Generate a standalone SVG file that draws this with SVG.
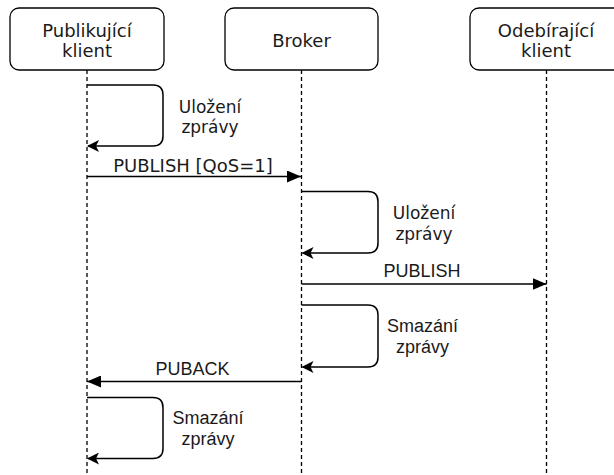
<svg xmlns="http://www.w3.org/2000/svg" width="614" height="475" viewBox="0 0 614 475">
<style>
.box{fill:#fff;stroke:#000;stroke-width:1.3}
.life{stroke:#000;stroke-width:1.3;stroke-dasharray:4,3;fill:none}
.loop{fill:none;stroke:#000;stroke-width:1.5}
.msg{fill:none;stroke:#000;stroke-width:1.5}
.tv{font-family:"DejaVu Sans",Verdana,sans-serif;font-size:18px;fill:#1a1a1a;text-anchor:middle}
.tu{font-family:"DejaVu Sans",Verdana,sans-serif;font-size:17px;fill:#1a1a1a;text-anchor:middle}
.ta{font-family:"Liberation Sans",Arial,sans-serif;font-size:18px;fill:#1a1a1a;text-anchor:middle}
</style>
<defs>
<marker id="open" viewBox="0 0 12 12" refX="11" refY="6" markerWidth="12" markerHeight="12" markerUnits="userSpaceOnUse" orient="auto">
<path d="M0,0 L12,6 L0,12 L3,6 Z" fill="#000"/>
</marker>
<marker id="block" viewBox="0 0 14 12" refX="14" refY="6" markerWidth="14" markerHeight="12" markerUnits="userSpaceOnUse" orient="auto">
<path d="M0,0 L14,6 L0,12 Z" fill="#000"/>
</marker>
</defs>
<g id="lifelines">
<line class="life" x1="87" y1="70" x2="87" y2="475"/>
<line class="life" x1="301.5" y1="70" x2="301.5" y2="475"/>
<line class="life" x1="546.5" y1="70" x2="546.5" y2="475"/>
</g>
<g id="node-publisher">
<rect class="box" x="10" y="8" width="154" height="62" rx="9"/>
<text class="tv" x="87" y="37">Publikující</text>
<text class="tv" x="87" y="57">klient</text>
</g>
<g id="node-broker">
<rect class="box" x="225" y="8" width="153" height="62" rx="9"/>
<text class="tv" x="301.5" y="47">Broker</text>
</g>
<g id="node-subscriber">
<rect class="box" x="470" y="8" width="153" height="62" rx="9"/>
<text class="tv" x="546" y="37">Odebírající</text>
<text class="tv" x="546" y="57">klient</text>
</g>
<g id="connectors">
<path class="loop" d="M87,85 H153 Q163,85 163,95 V136 Q163,146 153,146 H88" marker-end="url(#open)"/>
<path class="msg" d="M87,176.5 H301" marker-end="url(#block)"/>
<path class="loop" d="M301.5,191.5 H368 Q378,191.5 378,201.5 V243 Q378,253 368,253 H302.5" marker-end="url(#open)"/>
<path class="msg" d="M301.5,284 H546.5" marker-end="url(#block)"/>
<path class="loop" d="M301.5,305 H368 Q378,305 378,315 V357 Q378,367 368,367 H302.5" marker-end="url(#open)"/>
<path class="msg" d="M301.5,381.5 H87" marker-end="url(#block)"/>
<path class="loop" d="M87,397.5 H153 Q163,397.5 163,407.5 V448.5 Q163,458.5 153,458.5 H88" marker-end="url(#open)"/>
</g>
<g id="labels">
<text class="tu" x="210" y="113">Uložení</text>
<text class="tu" x="210" y="133">zprávy</text>
<text class="tv" x="193" y="171.5">PUBLISH [QoS=1]</text>
<text class="tu" x="424" y="219">Uložení</text>
<text class="tu" x="424" y="240">zprávy</text>
<text class="ta" x="422" y="276.5">PUBLISH</text>
<text class="ta" x="422.5" y="331.5">Smazání</text>
<text class="ta" x="422.5" y="352.5">zprávy</text>
<text class="ta" x="192.5" y="375">PUBACK</text>
<text class="ta" x="208" y="424">Smazání</text>
<text class="ta" x="208" y="445">zprávy</text>
</g>
</svg>
